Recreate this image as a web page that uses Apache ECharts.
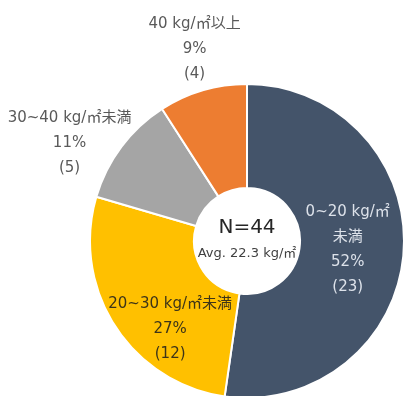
<!DOCTYPE html>
<html>
<head>
<meta charset="utf-8">
<style>
  html, body { margin: 0; padding: 0; background: #ffffff; }
  #chart { width: 406px; height: 396px; }
</style>
<script src="https://cdn.jsdelivr.net/npm/echarts@6/dist/echarts.min.js"></script>
</head>
<body>
<div id="chart"></div>
<script>
// BMI bands, respondent counts and slice colours
const categories = ['0~20 kg/㎡\n未満', '20~30 kg/㎡未満', '30~40 kg/㎡未満', '40 kg/㎡以上'];
const counts = [23, 12, 5, 4];
const sliceColors = ['#44546A', '#FFC000', '#A5A5A5', '#ED7D31'];
const centerTitle = 'N=44';
const centerSub = 'Avg. 22.3 kg/㎡';

// label colours and nudges away from the default in-ring position
const labelColors = ['#dde2ea', '#3d3418', '#595959', '#595959'];
const labelShift = [[-7, 1], [14, 30], [-91, -33], [-22, -88]];

const FONT = '"DejaVu Sans", "Noto Sans CJK JP", sans-serif';
const CX = 247, CY = 241, R_OUT = 157, R_IN = 53;

const chart = echarts.init(document.getElementById('chart'), null, { renderer: 'canvas' });

const data = categories.map((name, i) => ({
  name: name,
  value: counts[i],
  itemStyle: { color: sliceColors[i] },
  label: { color: labelColors[i] }
}));

chart.setOption({
  backgroundColor: '#ffffff',
  animation: false,
  series: [{
    type: 'pie',
    center: [CX, CY],
    radius: [R_IN, R_OUT],
    startAngle: 90,
    clockwise: true,
    avoidLabelOverlap: false,
    itemStyle: { borderColor: '#ffffff', borderWidth: 2 },
    label: {
      show: true,
      position: 'inside',
      fontFamily: FONT,
      fontSize: 15,
      lineHeight: 25,
      align: 'center',
      formatter: function (p) {
        return p.name + '\n' + Math.round(p.percent) + '%\n(' + p.value + ')';
      }
    },
    labelLine: { show: false },
    labelLayout: function (p) {
      const s = labelShift[p.dataIndex];
      return { dx: s[0], dy: s[1] };
    },
    emphasis: { disabled: true },
    data: data
  }],
  graphic: [
    {
      type: 'text',
      x: CX, y: CY - 13,
      style: {
        text: centerTitle, fill: '#262626', font: '20px ' + FONT,
        textAlign: 'center', textVerticalAlign: 'middle'
      }
    },
    {
      type: 'text',
      x: CX, y: CY + 13,
      style: {
        text: centerSub, fill: '#404040', font: '13px ' + FONT,
        textAlign: 'center', textVerticalAlign: 'middle'
      }
    }
  ]
});
</script>
</body>
</html>
